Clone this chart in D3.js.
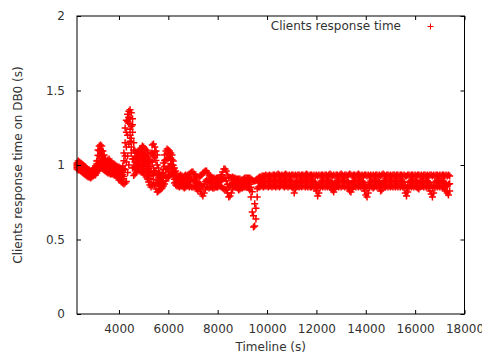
<!DOCTYPE html>
<html>
<head>
<meta charset="utf-8">
<script src="https://cdn.jsdelivr.net/npm/d3@7"></script>
<style>
  body { margin: 0; background: #fff; }
  svg { display: block; font-family: "DejaVu Sans", sans-serif; }
</style>
</head>
<body>
<svg id="chart" width="482" height="354"></svg>
<script>
const xTicks = [4000, 6000, 8000, 10000, 12000, 14000, 16000, 18000];
const yTicks = [0, 0.5, 1, 1.5, 2];
const seriesName = "Clients response time";

// one sample every 50 s, from 2300 s to 17400 s
const sampleTimes = d3.range(2300, 17450, 50);

// upper edge of the point cloud at each sample
const respHigh = [
  1.013,1.027,1.020,1.013,1.007,1.000,0.993,0.987,0.973,0.966,0.966,0.960,0.960,0.973,0.980,0.993,1.027,1.101,1.128,1.134,
  1.128,1.094,1.067,1.040,1.027,1.034,1.040,1.027,1.013,1.007,1.007,1.000,0.993,0.987,0.987,0.980,0.973,0.993,1.081,1.248,
  1.300,1.340,1.360,1.370,1.350,1.310,1.150,1.094,1.081,1.081,1.094,1.107,1.114,1.128,1.121,1.107,1.101,1.094,1.067,1.034,
  1.081,1.134,1.141,1.121,1.094,1.067,0.980,0.946,0.933,0.946,1.013,1.067,1.094,1.107,1.101,1.094,1.081,1.067,1.027,0.980,
  0.960,0.933,0.926,0.926,0.933,0.926,0.919,0.926,0.933,0.926,0.933,0.940,0.946,0.953,0.953,0.940,0.926,0.919,0.919,0.919,
  0.926,0.933,0.946,0.953,0.960,0.960,0.946,0.933,0.926,0.919,0.913,0.913,0.906,0.913,0.913,0.913,0.919,0.933,0.953,0.973,
  0.973,0.960,0.933,0.919,0.913,0.913,0.919,0.913,0.913,0.906,0.906,0.906,0.906,0.899,0.899,0.906,0.913,0.913,0.913,0.913,
  0.913,0.906,0.899,0.893,0.893,0.899,0.906,0.913,0.919,0.919,0.926,0.926,0.926,0.933,0.926,0.926,0.933,0.926,0.926,0.933,
  0.933,0.926,0.933,0.940,0.933,0.926,0.933,0.926,0.933,0.940,0.933,0.926,0.933,0.926,0.933,0.933,0.926,0.933,0.926,0.933,
  0.933,0.926,0.933,0.933,0.926,0.933,0.940,0.933,0.926,0.933,0.933,0.926,0.933,0.926,0.933,0.926,0.933,0.926,0.933,0.933,
  0.926,0.933,0.933,0.926,0.933,0.940,0.933,0.926,0.933,0.926,0.933,0.933,0.926,0.933,0.940,0.933,0.926,0.933,0.933,0.926,
  0.933,0.940,0.933,0.926,0.933,0.933,0.926,0.933,0.940,0.933,0.926,0.933,0.926,0.933,0.933,0.926,0.933,0.926,0.933,0.926,
  0.933,0.926,0.933,0.933,0.926,0.933,0.926,0.933,0.940,0.933,0.926,0.933,0.933,0.926,0.933,0.926,0.933,0.933,0.926,0.933,
  0.933,0.926,0.933,0.933,0.926,0.933,0.926,0.926,0.933,0.933,0.926,0.933,0.933,0.926,0.933,0.926,0.933,0.933,0.926,0.933,
  0.926,0.933,0.933,0.926,0.933,0.926,0.933,0.933,0.926,0.933,0.926,0.933,0.933,0.926,0.933,0.926,0.933,0.933,0.926,0.933,
  0.926,0.933,0.926
];

// middle of the cloud
const respMid = [
  0.993,0.999,0.990,0.985,0.980,0.972,0.967,0.960,0.950,0.943,0.942,0.936,0.940,0.950,0.956,0.965,0.985,1.030,1.060,1.075,
  1.060,1.030,1.010,0.998,0.990,0.992,0.995,0.985,0.975,0.972,0.970,0.966,0.958,0.950,0.942,0.938,0.930,0.935,0.975,1.060,
  1.120,1.200,1.280,1.240,1.180,1.220,1.040,1.020,1.010,1.020,1.030,1.035,1.030,1.040,1.030,1.020,1.010,1.000,0.975,0.950,
  0.960,1.020,0.980,1.050,0.960,0.930,0.900,0.890,0.885,0.895,0.930,0.990,0.970,1.040,0.990,1.050,1.010,1.000,0.970,0.930,
  0.905,0.895,0.890,0.885,0.895,0.890,0.885,0.882,0.890,0.893,0.896,0.900,0.903,0.905,0.900,0.898,0.890,0.880,0.870,0.875,
  0.870,0.860,0.855,0.870,0.890,0.900,0.895,0.890,0.885,0.880,0.878,0.880,0.877,0.880,0.883,0.885,0.890,0.895,0.905,0.915,
  0.910,0.895,0.870,0.850,0.860,0.870,0.880,0.882,0.885,0.878,0.876,0.870,0.872,0.874,0.873,0.880,0.883,0.882,0.883,0.880,
  0.870,0.850,0.820,0.660,0.740,0.710,0.840,0.880,0.885,0.890,0.893,0.890,0.892,0.895,0.893,0.890,0.894,0.892,0.890,0.895,
  0.895,0.890,0.893,0.900,0.890,0.888,0.896,0.892,0.890,0.897,0.894,0.889,0.893,0.891,0.889,0.885,0.870,0.885,0.893,0.890,
  0.892,0.895,0.889,0.893,0.896,0.890,0.897,0.891,0.894,0.889,0.892,0.895,0.890,0.885,0.870,0.850,0.860,0.880,0.893,0.890,
  0.893,0.890,0.895,0.889,0.894,0.896,0.886,0.875,0.865,0.880,0.890,0.894,0.889,0.895,0.897,0.892,0.890,0.893,0.895,0.889,
  0.885,0.875,0.870,0.880,0.892,0.895,0.889,0.894,0.896,0.891,0.889,0.893,0.885,0.870,0.855,0.845,0.860,0.882,0.893,0.890,
  0.888,0.890,0.894,0.891,0.893,0.885,0.872,0.878,0.890,0.895,0.890,0.893,0.889,0.895,0.891,0.893,0.889,0.894,0.890,0.895,
  0.890,0.894,0.889,0.893,0.890,0.882,0.860,0.845,0.865,0.885,0.893,0.890,0.895,0.889,0.893,0.890,0.884,0.880,0.890,0.894,
  0.893,0.890,0.894,0.889,0.893,0.884,0.872,0.860,0.845,0.860,0.884,0.893,0.890,0.895,0.889,0.893,0.886,0.889,0.880,0.875,
  0.860,0.870,0.875
];

// lower edge of the cloud
const respLow = [
  0.973,0.966,0.966,0.960,0.953,0.946,0.940,0.933,0.926,0.919,0.919,0.913,0.919,0.926,0.933,0.933,0.946,0.960,0.973,0.980,
  0.980,0.973,0.966,0.960,0.953,0.946,0.946,0.940,0.940,0.940,0.933,0.933,0.926,0.913,0.899,0.899,0.886,0.879,0.872,0.879,
  0.890,0.950,1.000,1.160,1.080,0.980,0.930,0.940,0.953,0.966,0.966,0.960,0.953,0.953,0.946,0.933,0.919,0.906,0.886,0.866,
  0.852,0.866,0.879,0.866,0.839,0.819,0.826,0.832,0.839,0.846,0.859,0.872,0.893,0.913,0.919,0.926,0.940,0.946,0.919,0.879,
  0.866,0.859,0.859,0.852,0.859,0.859,0.852,0.846,0.852,0.859,0.859,0.852,0.859,0.852,0.852,0.859,0.852,0.839,0.826,0.839,
  0.826,0.805,0.792,0.812,0.839,0.852,0.852,0.846,0.852,0.852,0.846,0.846,0.852,0.852,0.852,0.859,0.859,0.852,0.846,0.839,
  0.839,0.832,0.812,0.785,0.792,0.812,0.839,0.852,0.852,0.852,0.846,0.832,0.839,0.846,0.846,0.852,0.852,0.852,0.852,0.846,
  0.832,0.785,0.685,0.584,0.591,0.638,0.785,0.852,0.852,0.859,0.859,0.852,0.859,0.859,0.859,0.852,0.859,0.859,0.852,0.859,
  0.859,0.852,0.859,0.859,0.852,0.859,0.866,0.859,0.852,0.859,0.859,0.852,0.859,0.859,0.852,0.846,0.812,0.839,0.852,0.859,
  0.852,0.859,0.852,0.859,0.859,0.852,0.859,0.852,0.859,0.852,0.852,0.859,0.852,0.846,0.826,0.792,0.812,0.846,0.859,0.852,
  0.859,0.852,0.859,0.852,0.859,0.852,0.846,0.832,0.819,0.839,0.852,0.859,0.852,0.859,0.852,0.859,0.859,0.852,0.859,0.852,
  0.846,0.826,0.819,0.839,0.852,0.859,0.852,0.859,0.852,0.859,0.852,0.859,0.846,0.826,0.799,0.785,0.812,0.846,0.859,0.852,
  0.846,0.852,0.859,0.852,0.859,0.846,0.826,0.832,0.852,0.859,0.852,0.859,0.852,0.859,0.852,0.859,0.852,0.859,0.852,0.859,
  0.852,0.859,0.852,0.859,0.852,0.846,0.812,0.792,0.819,0.846,0.859,0.852,0.859,0.852,0.859,0.852,0.846,0.839,0.852,0.859,
  0.859,0.852,0.859,0.852,0.859,0.846,0.826,0.805,0.785,0.812,0.846,0.859,0.852,0.859,0.852,0.859,0.846,0.852,0.839,0.826,
  0.812,0.799,0.826
];

// the wide, unsettled start (2300 s to 6750 s) needs two more rows of points
const warmupTimes = sampleTimes.slice(0, 90);
const warmupUpper = [
  1.003,1.013,1.005,0.999,0.993,0.986,0.980,0.973,0.962,0.955,0.954,0.948,0.950,0.962,0.968,0.979,1.006,1.065,1.095,1.105,
  1.095,1.062,1.038,1.019,1.008,1.013,1.017,1.006,0.994,0.990,0.988,0.983,0.975,0.968,0.965,0.959,0.951,0.964,1.028,1.150,
  1.220,1.290,1.320,1.310,1.260,1.270,1.100,1.057,1.046,1.050,1.062,1.071,1.072,1.084,1.076,1.064,1.056,1.047,1.021,0.992,
  1.020,1.080,1.060,1.090,1.030,1.000,0.940,0.918,0.909,0.920,0.970,1.030,1.035,1.075,1.045,1.075,1.045,1.035,0.998,0.955,
  0.935,0.915,0.908,0.905,0.915,0.908,0.902,0.905,0.912,0.910
];
const warmupLower = [
  0.983,0.983,0.978,0.972,0.966,0.959,0.953,0.946,0.938,0.931,0.930,0.924,0.930,0.938,0.944,0.949,0.965,0.995,1.015,1.028,
  1.020,1.001,0.988,0.979,0.971,0.969,0.970,0.962,0.957,0.956,0.951,0.949,0.942,0.931,0.920,0.918,0.908,0.907,0.923,0.970,
  1.020,1.060,1.140,1.200,1.120,1.040,0.985,0.980,0.982,0.993,0.998,0.998,0.992,0.997,0.988,0.977,0.965,0.953,0.930,0.908,
  0.905,0.940,0.930,0.955,0.900,0.875,0.863,0.861,0.862,0.870,0.895,0.930,0.932,0.975,0.955,0.985,0.975,0.972,0.945,0.905,
  0.885,0.877,0.874,0.868,0.877,0.874,0.868,0.864,0.871,0.876
];

const plot = { left: 77, right: 464.5, top: 16, bottom: 314 };
const textColor = "#333";
const pointColor = "#ff0000";
const plus = "M-3.5,0H3.5M0,-3.5V3.5";

const svg = d3.select("#chart");

const x = d3.scaleLinear().domain([2300, 18000]).range([plot.left, plot.right]);
const y = d3.scaleLinear().domain([0, 2]).range([plot.bottom, plot.top]);

// points
const points = [];
[respHigh, respMid, respLow].forEach(series => {
  series.forEach((v, i) => points.push({ t: sampleTimes[i], v: v }));
});
[warmupUpper, warmupLower].forEach(series => {
  series.forEach((v, i) => points.push({ t: warmupTimes[i], v: v }));
});

svg.append("g")
  .selectAll("path")
  .data(points)
  .join("path")
    .attr("d", plus)
    .attr("transform", d => `translate(${x(d.t)},${y(d.v)})`)
    .attr("fill", "none")
    .attr("stroke", pointColor)
    .attr("stroke-width", 1.5);

// axes, ticks pointing inward and mirrored
const styleAxis = g => {
  g.select(".domain").remove();
  g.selectAll(".tick line").attr("stroke", "#000");
  g.selectAll(".tick text")
    .attr("fill", textColor)
    .style("font-size", "12px")
    .style("font-family", '"DejaVu Sans", sans-serif');
};

svg.append("g")
  .attr("transform", `translate(0,${plot.bottom})`)
  .call(d3.axisBottom(x).tickValues(xTicks).tickSize(-4).tickPadding(10).tickFormat(d3.format("d")))
  .call(styleAxis);

svg.append("g")
  .attr("transform", `translate(0,${plot.top})`)
  .call(d3.axisTop(x).tickValues(xTicks).tickSize(-4).tickFormat(""))
  .call(styleAxis);

svg.append("g")
  .attr("transform", `translate(${plot.left},0)`)
  .call(d3.axisLeft(y).tickValues(yTicks).tickSize(-4).tickPadding(12).tickFormat(d3.format("~g")))
  .call(styleAxis);

svg.append("g")
  .attr("transform", `translate(${plot.right},0)`)
  .call(d3.axisRight(y).tickValues(yTicks).tickSize(-4).tickFormat(""))
  .call(styleAxis);

// border
svg.append("rect")
  .attr("x", plot.left)
  .attr("y", plot.top)
  .attr("width", plot.right - plot.left)
  .attr("height", plot.bottom - plot.top)
  .attr("fill", "none")
  .attr("stroke", "#000")
  .attr("stroke-width", 1);

// axis titles
svg.append("text")
  .attr("x", (plot.left + plot.right) / 2)
  .attr("y", 351)
  .attr("text-anchor", "middle")
  .attr("fill", textColor)
  .style("font-size", "12px")
  .text("Timeline (s)");

svg.append("text")
  .attr("transform", `translate(22,${(plot.top + plot.bottom) / 2}) rotate(-90)`)
  .attr("text-anchor", "middle")
  .attr("fill", textColor)
  .style("font-size", "12px")
  .text("Clients response time on DB0 (s)");

// key
svg.append("text")
  .attr("x", 401)
  .attr("y", 30)
  .attr("text-anchor", "end")
  .attr("fill", textColor)
  .style("font-size", "12px")
  .text(seriesName);

svg.append("path")
  .attr("d", "M-3,0H3M0,-3V3")
  .attr("transform", "translate(430.5,26.5)")
  .attr("fill", "none")
  .attr("stroke", pointColor)
  .attr("stroke-width", 1);
</script>
</body>
</html>
